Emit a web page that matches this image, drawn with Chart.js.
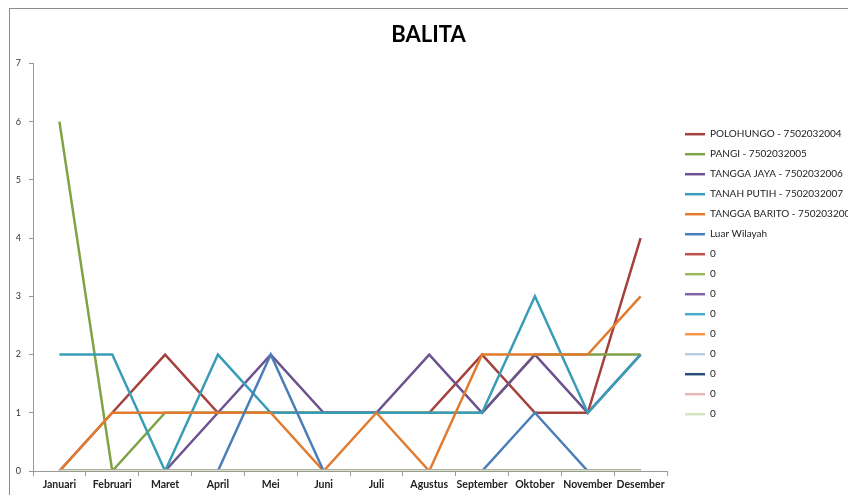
<!DOCTYPE html>
<html>
<head>
<meta charset="utf-8">
<script src="https://cdn.jsdelivr.net/npm/chart.js@4/dist/chart.umd.min.js"></script>
<style>
  html, body { margin: 0; padding: 0; background: #fff; }
  #wrap { position: relative; width: 848px; height: 495px; }
  #frame { position: absolute; left: 9px; top: 8px; right: 0; bottom: 0;
           border-top: 1px solid #8c8c8c; border-left: 1px solid #8c8c8c; }
  #chartOne { position: absolute; left: 0; top: 0; }
</style>
</head>
<body>
<div id="wrap">
  <div id="frame"></div>
  <canvas id="chartOne" width="848" height="495"></canvas>
</div>
<script>
// months
const months = ['Januari', 'Februari', 'Maret', 'April', 'Mei', 'Juni', 'Juli', 'Agustus', 'September', 'Oktober', 'November', 'Desember'];

// series values
const polohungo    = [0, 1, 2, 1, 1, 1, 1, 1, 2, 1, 1, 4];
const pangi        = [6, 0, 1, 1, 1, 1, 1, 1, 1, 2, 2, 2];
const tanggaJaya   = [0, 0, 0, 1, 2, 1, 1, 2, 1, 2, 1, 2];
const tanahPutih   = [2, 2, 0, 2, 1, 1, 1, 1, 1, 3, 1, 2];
const tanggaBarito = [0, 1, 1, 1, 1, 0, 1, 0, 2, 2, 2, 3];
const luarWilayah  = [0, 0, 0, 0, 2, 0, 0, 0, 0, 1, 0, 0];
const kosong       = [0, 0, 0, 0, 0, 0, 0, 0, 0, 0, 0, 0];

const seriesNames = ['POLOHUNGO - 7502032004', 'PANGI - 7502032005', 'TANGGA JAYA - 7502032006',
    'TANAH PUTIH - 7502032007', 'TANGGA BARITO - 7502032008', 'Luar Wilayah',
    '0', '0', '0', '0', '0', '0', '0', '0', '0'];
const seriesData = [polohungo, pangi, tanggaJaya, tanahPutih, tanggaBarito, luarWilayah,
    kosong, kosong, kosong, kosong, kosong, kosong, kosong, kosong, kosong];
const seriesColors = ['#a5403d', '#7ea345', '#6d5290', '#3a9db8', '#e07b30', '#4a7ebb',
    '#c0504d', '#9bbb59', '#8064a2', '#4bacc6', '#f79646', '#b9cde5', '#2c4d75', '#e6b9b8', '#d7e4bd'];

const yTicks = [0, 1, 2, 3, 4, 5, 6, 7];

const datasets = seriesNames.map(function(name, i){
    return {
        label: name,
        data: seriesData[i],
        borderColor: seriesColors[i],
        backgroundColor: seriesColors[i],
        borderWidth: 2.5,
        pointRadius: 0,
        tension: 0,
        order: seriesNames.length - i   // later series on top, like excel
    };
});

// fixed legend width, legend a little to the right of the plot
const legendFix = {
    id: 'legendFix',
    beforeInit(chart){
        const fit = chart.legend.fit;
        chart.legend.fit = function(){
            fit.bind(chart.legend)();
            this.width = 181;
        };
    },
    afterLayout(chart){
        chart.legend.left = chart.chartArea.right + 8;
        chart.legend.right = chart.legend.left + 200;
    }
};

const ctx = document.getElementById('chartOne').getContext('2d');

new Chart(ctx, {
    type: 'line',
    data: {
        labels: months,
        datasets: datasets
    },
    options: {
        responsive: false,
        animation: false,
        layout: { padding: { left: 9, top: 8, right: 0, bottom: 0 } },
        plugins: {
            title: {
                display: true,
                text: 'BALITA',
                color: '#000',
                font: { family: 'Lato', size: 22, weight: 'bold' },
                padding: { top: 14, bottom: 15 }
            },
            legend: {
                position: 'right',
                align: 'start',
                title: { display: true, text: '', font: { size: 1 }, padding: { top: 110, bottom: 0 } },
                labels: {
                    usePointStyle: true,
                    pointStyle: 'line',
                    pointStyleWidth: 20,
                    padding: 10,
                    color: '#222',
                    font: { family: 'Lato', size: 10 },
                    sort: (a, b) => a.datasetIndex - b.datasetIndex
                }
            },
            tooltip: { enabled: false }
        },
        scales: {
            x: {
                offset: true,
                grid: { offset: true, drawOnChartArea: false, drawTicks: true, tickLength: 5, color: '#9a9a9a' },
                border: { display: true, color: '#9a9a9a' },
                ticks: { color: '#222', font: { family: 'Lato', size: 10.5, weight: 'bold' }, padding: 2, maxRotation: 0, autoSkip: false },
                afterFit(scale){ scale.height = 24; }
            },
            y: {
                min: 0,
                max: 7,
                afterBuildTicks(scale){ scale.ticks = yTicks.map(v => ({ value: v })); },
                grid: { drawOnChartArea: false, drawTicks: true, tickLength: 4, color: '#9a9a9a' },
                border: { display: true, color: '#9a9a9a' },
                ticks: { color: '#333', font: { family: 'Lato', size: 9 }, padding: 8 },
                afterFit(scale){ scale.width = 24; }
            }
        }
    },
    plugins: [legendFix]
});
</script>
</body>
</html>
